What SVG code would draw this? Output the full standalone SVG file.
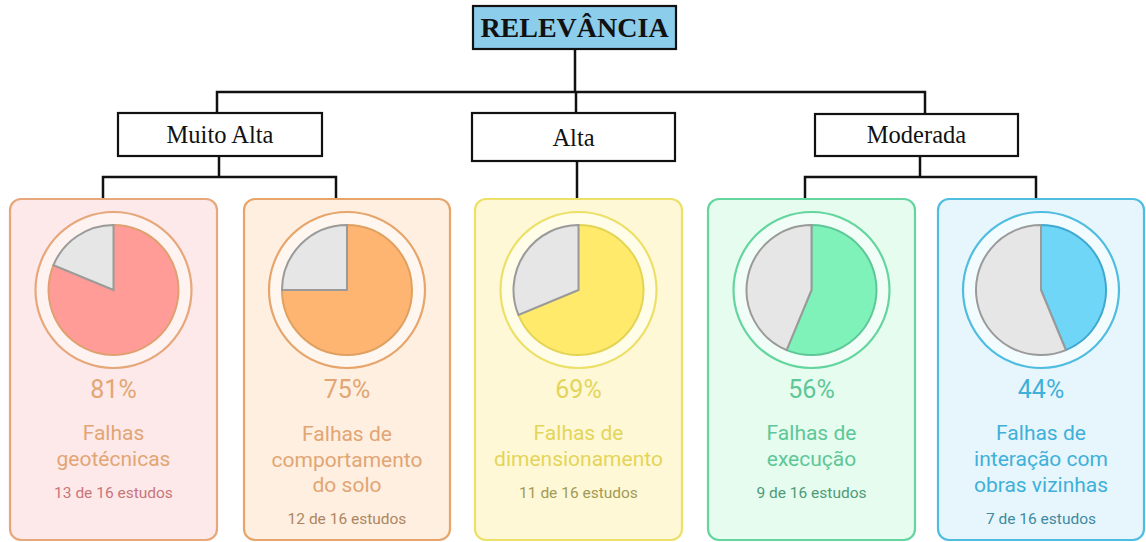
<svg xmlns="http://www.w3.org/2000/svg" width="1146" height="542" viewBox="0 0 1146 542">
<style>
.lvl{fill:#fff;stroke:#111;stroke-width:2.2}
.lvlt{font-family:"Liberation Serif",serif;font-size:24.5px;fill:#111;text-anchor:middle}
.conn{fill:none;stroke:#111;stroke-width:2.5}
.card{stroke-width:2.2}
.ring{stroke-width:2.2}
.pie{stroke-width:2}
.gray{fill:#e6e6e6;stroke:#9a9a9a;stroke-width:2}
.pct{font-family:Roboto,"Liberation Sans",sans-serif;font-size:25px;text-anchor:middle}
.ttl{font-family:Roboto,"Liberation Sans",sans-serif;font-size:21px;text-anchor:middle}
.sub{font-family:Roboto,"Liberation Sans",sans-serif;font-size:15.5px;text-anchor:middle}
</style>
<rect width="1146" height="542" fill="#fff"/>
<g id="connectors">
<path class="conn" d="M575 49V92M217 113V92H925V114M576 92V113"/>
<path class="conn" d="M219 156V177M103 199V177H336V199"/>
<path class="conn" d="M577 161V199"/>
<path class="conn" d="M920 156V177M805 199V177H1036V199"/>
</g>
<g id="relevancia">
<rect x="473" y="6" width="203" height="43" fill="#8dcdec" stroke="#111" stroke-width="2.2"/>
<text x="574.5" y="37" font-family="'Liberation Serif',serif" font-size="28" font-weight="bold" fill="#111" text-anchor="middle">RELEVÂNCIA</text>
</g>
<g id="muito-alta">
<rect class="lvl" x="118" y="113" width="204" height="43"/>
<text class="lvlt" x="220" y="143">Muito Alta</text>
</g>
<g id="alta">
<rect class="lvl" x="472" y="113" width="203" height="48"/>
<text class="lvlt" x="573.5" y="146">Alta</text>
</g>
<g id="moderada">
<rect class="lvl" x="815" y="114" width="203" height="42"/>
<text class="lvlt" x="916.5" y="143">Moderada</text>
</g>
<g id="card-geotecnicas">
<rect class="card" x="10" y="199" width="207" height="341" rx="11" fill="#fde9e9" stroke="#e6a77a"/>
<circle class="ring" cx="113.5" cy="290" r="78" fill="#fff3f1" stroke="#e6a77a"/>
<path class="pie" d="M113.5 290L113.5 225A65 65 0 1 1 53.45 265.13Z" fill="#ff9c98" stroke="#e0a070"/>
<path class="gray" d="M113.5 290L53.45 265.13A65 65 0 0 1 113.5 225Z"/>
<text class="pct" x="113.5" y="398" fill="#e2a574">81%</text>
<text class="ttl" x="113.5" y="440" fill="#e2a574">Falhas</text>
<text class="ttl" x="113.5" y="466" fill="#e2a574">geotécnicas</text>
<text class="sub" x="113.5" y="498" fill="#c9757a">13 de 16 estudos</text>
</g>
<g id="card-comportamento">
<rect class="card" x="244" y="199" width="206" height="341" rx="11" fill="#feefe1" stroke="#e7a56b"/>
<circle class="ring" cx="347" cy="290" r="78" fill="#fff7ef" stroke="#e7a56b"/>
<path class="pie" d="M347 290L347 225A65 65 0 1 1 282 290Z" fill="#ffb572" stroke="#e0a060"/>
<path class="gray" d="M347 290L282 290A65 65 0 0 1 347 225Z"/>
<text class="pct" x="347" y="398" fill="#e2a574">75%</text>
<text class="ttl" x="347" y="441" fill="#e2a574">Falhas de</text>
<text class="ttl" x="347" y="467" fill="#e2a574">comportamento</text>
<text class="ttl" x="347" y="492" fill="#e2a574">do solo</text>
<text class="sub" x="347" y="524" fill="#ad8660">12 de 16 estudos</text>
</g>
<g id="card-dimensionamento">
<rect class="card" x="475" y="199" width="207" height="341" rx="11" fill="#fff8d6" stroke="#ece068"/>
<circle class="ring" cx="578.5" cy="290" r="78" fill="#fffce8" stroke="#ece068"/>
<path class="pie" d="M578.5 290L578.5 225A65 65 0 1 1 518.45 314.87Z" fill="#ffea6c" stroke="#e4d455"/>
<path class="gray" d="M578.5 290L518.45 314.87A65 65 0 0 1 578.5 225Z"/>
<text class="pct" x="578.5" y="398" fill="#e3d55a">69%</text>
<text class="ttl" x="578.5" y="440" fill="#e3d55a">Falhas de</text>
<text class="ttl" x="578.5" y="466" fill="#e3d55a">dimensionamento</text>
<text class="sub" x="578.5" y="498" fill="#a29a55">11 de 16 estudos</text>
</g>
<g id="card-execucao">
<rect class="card" x="708" y="199" width="207" height="341" rx="11" fill="#e5fcef" stroke="#64d59e"/>
<circle class="ring" cx="811.5" cy="290" r="78" fill="#f1fef7" stroke="#64d59e"/>
<path class="pie" d="M811.5 290L811.5 225A65 65 0 1 1 786.63 350.05Z" fill="#7ef2b8" stroke="#5ec797"/>
<path class="gray" d="M811.5 290L786.63 350.05A65 65 0 0 1 811.5 225Z"/>
<text class="pct" x="811.5" y="398" fill="#5ec797">56%</text>
<text class="ttl" x="811.5" y="440" fill="#5ec797">Falhas de</text>
<text class="ttl" x="811.5" y="466" fill="#5ec797">execução</text>
<text class="sub" x="811.5" y="498" fill="#4e9a7a">9 de 16 estudos</text>
</g>
<g id="card-interacao">
<rect class="card" x="938" y="199" width="206" height="341" rx="11" fill="#e6f6fc" stroke="#4fbde0"/>
<circle class="ring" cx="1041" cy="290" r="78" fill="#f2fbfe" stroke="#4fbde0"/>
<path class="pie" d="M1041 290L1041 225A65 65 0 0 1 1065.87 350.05Z" fill="#6fd6f7" stroke="#3fa8d0"/>
<path class="gray" d="M1041 290L1065.87 350.05A65 65 0 1 1 1041 225Z"/>
<text class="pct" x="1041" y="398" fill="#3fb0d9">44%</text>
<text class="ttl" x="1041" y="440" fill="#3fb0d9">Falhas de</text>
<text class="ttl" x="1041" y="466" fill="#3fb0d9">interação com</text>
<text class="ttl" x="1041" y="492" fill="#3fb0d9">obras vizinhas</text>
<text class="sub" x="1041" y="524" fill="#3f8aa0">7 de 16 estudos</text>
</g>
</svg>
